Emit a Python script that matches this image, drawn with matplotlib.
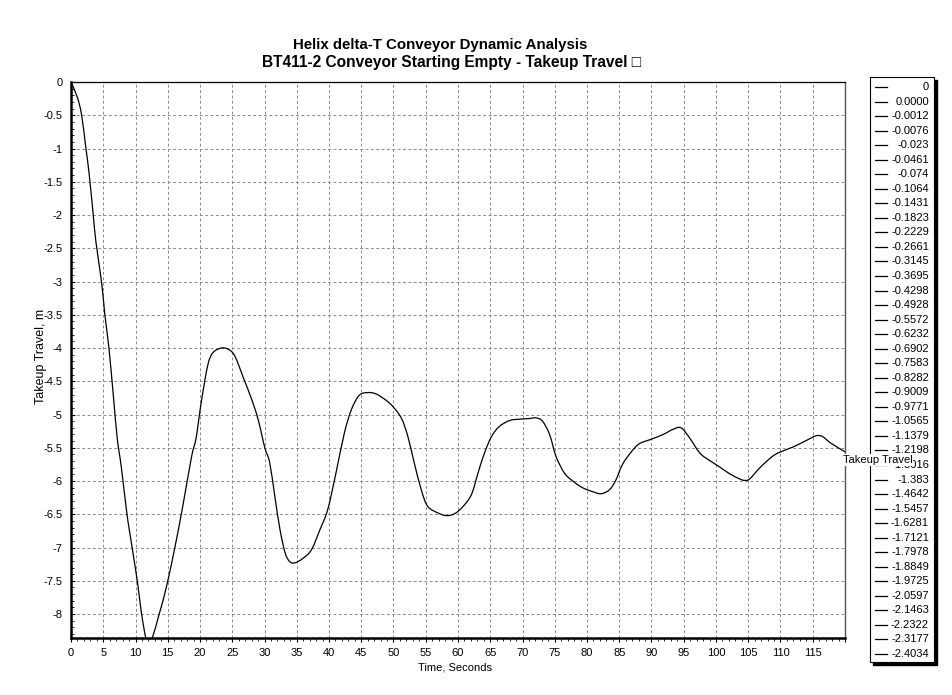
import matplotlib
matplotlib.use("Agg")
import matplotlib.pyplot as plt
from matplotlib.ticker import MultipleLocator, FuncFormatter
from matplotlib.patches import Rectangle, PathPatch
from matplotlib.path import Path
from matplotlib.lines import Line2D

plt.rcParams['font.family'] = ['Liberation Sans', 'DejaVu Sans']

# ---- data ----
time_s = [0, 0.98, 1.65, 2.3, 2.8, 3.45, 3.87, 4.74, 5.26, 5.88, 6.55, 7.16, 7.8,
          8.6, 9.1, 9.9, 10.4, 10.9, 11.6, 12.1, 12.6, 13.76, 14.8, 16.1, 17.4,
          18.7, 19.4, 20.2, 21.2, 22.0, 23.3, 24.4, 25.4, 26.7, 28.0, 29.0, 30.05,
          30.8, 31.6, 32.4, 33.2, 33.9, 34.7, 36.0, 37.3, 38.6, 39.8, 41.1, 42.4,
          43.5, 44.7, 46.0, 47.3, 48.9, 49.9, 51.2, 52.2, 53.2, 54.3, 55.3, 56.9,
          58.2, 59.5, 60.8, 62.1, 63.1, 64.1, 65.2, 66.4, 68.0, 69.5, 71.1, 72.1,
          73.1, 74.2, 75.2, 76.5, 77.8, 79.3, 80.9, 82.2, 83.5, 84.5, 85.5, 86.8,
          88.1, 90.0, 91.8, 93.4, 94.6, 95.9, 97.5, 99.0, 100.6, 102.1, 103.7,
          104.4, 105.2, 106.8, 108.6, 109.8, 111.9, 114.0, 115.5, 116.5, 117.8, 120.0]
travel_m = [0, -0.23, -0.5, -0.99, -1.37, -2.0, -2.41, -3.01, -3.51, -4.0, -4.7, -5.35,
            -5.79, -6.44, -6.77, -7.26, -7.59, -7.97, -8.36, -8.42, -8.36, -7.97, -7.59,
            -7.0, -6.34, -5.63, -5.35, -4.81, -4.26, -4.07, -4.0, -4.02, -4.12, -4.44,
            -4.77, -5.07, -5.5, -5.72, -6.23, -6.73, -7.08, -7.21, -7.23, -7.16, -7.03,
            -6.73, -6.43, -5.87, -5.27, -4.92, -4.71, -4.67, -4.69, -4.79, -4.88, -5.05,
            -5.32, -5.72, -6.13, -6.38, -6.48, -6.52, -6.49, -6.38, -6.2, -5.88, -5.58,
            -5.33, -5.18, -5.09, -5.07, -5.06, -5.05, -5.1, -5.3, -5.63, -5.88, -6.0,
            -6.1, -6.16, -6.19, -6.13, -5.98, -5.75, -5.57, -5.44, -5.37, -5.3, -5.22,
            -5.2, -5.35, -5.58, -5.69, -5.79, -5.89, -5.97, -5.99, -5.97, -5.8, -5.64,
            -5.57, -5.49, -5.39, -5.32, -5.33, -5.43, -5.56]

legend_labels = ["0", "0.0000", "-0.0012", "-0.0076", "-0.023", "-0.0461", "-0.074",
                 "-0.1064", "-0.1431", "-0.1823", "-0.2229", "-0.2661", "-0.3145",
                 "-0.3695", "-0.4298", "-0.4928", "-0.5572", "-0.6232", "-0.6902",
                 "-0.7583", "-0.8282", "-0.9009", "-0.9771", "-1.0565", "-1.1379",
                 "-1.2198", "-1.3016", "-1.383", "-1.4642", "-1.5457", "-1.6281",
                 "-1.7121", "-1.7978", "-1.8849", "-1.9725", "-2.0597", "-2.1463",
                 "-2.2322", "-2.3177", "-2.4034"]

title_line1 = "Helix delta-T Conveyor Dynamic Analysis"
title_line2 = "BT411-2 Conveyor Starting Empty - Takeup Travel \u25a1"
series_name = "Takeup Travel"

W, H = 953, 695
fig = plt.figure(figsize=(W / 100, H / 100), dpi=100)
fig.patch.set_facecolor('white')

def fx(px):
    return px / W

def fy(py):
    return 1 - py / H

ax = fig.add_axes([fx(71), fy(638), fx(845) - fx(71), fy(82) - fy(638)])

# smooth (Catmull-Rom style) line through the data points
verts = [(time_s[0], travel_m[0])]
codes = [Path.MOVETO]
n_pts = len(time_s)
for i in range(n_pts - 1):
    p0 = (time_s[max(i - 1, 0)], travel_m[max(i - 1, 0)])
    p1 = (time_s[i], travel_m[i])
    p2 = (time_s[i + 1], travel_m[i + 1])
    p3 = (time_s[min(i + 2, n_pts - 1)], travel_m[min(i + 2, n_pts - 1)])
    c1 = (p1[0] + (p2[0] - p0[0]) / 6, p1[1] + (p2[1] - p0[1]) / 6)
    c2 = (p2[0] - (p3[0] - p1[0]) / 6, p2[1] - (p3[1] - p1[1]) / 6)
    verts += [c1, c2, p2]
    codes += [Path.CURVE4] * 3
ax.add_patch(PathPatch(Path(verts, codes), facecolor='none', edgecolor='black',
                       lw=0.9, zorder=3))

ax.set_xlim(0, 120)
ax.set_ylim(-8.36, 0)

ax.xaxis.set_major_locator(MultipleLocator(5))
ax.xaxis.set_minor_locator(MultipleLocator(1))
ax.yaxis.set_major_locator(MultipleLocator(0.5))
ax.yaxis.set_minor_locator(MultipleLocator(0.1))
ax.xaxis.set_major_formatter(FuncFormatter(lambda v, p: "" if v > 117 else f"{v:g}"))
ax.yaxis.set_major_formatter(FuncFormatter(lambda v, p: f"{v:g}" if abs(v) > 1e-9 else "0"))

ax.tick_params(axis='x', which='major', direction='out', length=3, width=0.8, labelsize=8, pad=4)
ax.tick_params(axis='x', which='minor', direction='out', length=2, width=0.6)
ax.tick_params(axis='y', which='major', direction='in', length=3, width=0.8, labelsize=8, pad=6)
ax.tick_params(axis='y', which='minor', direction='in', length=2, width=0.6)

ax.grid(True, which='major', color='#8c8c8c', linestyle=(0, (3, 2.5)), linewidth=0.7)
ax.set_axisbelow(True)

ax.spines['left'].set_linewidth(1.8)
ax.spines['bottom'].set_linewidth(1.8)
ax.spines['top'].set_linewidth(0.9)
ax.spines['right'].set_linewidth(1.0)
ax.spines['right'].set_color('#555555')

fig.text(fx(440), fy(45), title_line1, ha='center', va='center', fontsize=10.8,
         fontweight='bold')
fig.text(fx(452), fy(63), title_line2, ha='center', va='center', fontsize=11.2,
         fontweight='bold')
fig.text(fx(455), fy(668), "Time, Seconds", ha='center', va='center', fontsize=8)
fig.text(fx(41), fy(356), "Takeup Travel, m", ha='center', va='center', fontsize=9,
         rotation=90)

# legend box with shadow
lx0, lx1, ly0, ly1 = 870, 934, 77, 662
fig.patches.append(Rectangle((fx(lx0 + 3), fy(ly1 + 3)), fx(lx1) - fx(lx0), fy(ly0) - fy(ly1),
                             transform=fig.transFigure, facecolor='black', edgecolor='black', zorder=1))
fig.patches.append(Rectangle((fx(lx0), fy(ly1)), fx(lx1) - fx(lx0), fy(ly0) - fy(ly1),
                             transform=fig.transFigure, facecolor='white', edgecolor='black',
                             linewidth=0.8, zorder=2))
n = len(legend_labels)
step = (654 - 87) / (n - 1)
for i, lab in enumerate(legend_labels):
    yy = 87 + i * step
    fig.lines.append(Line2D([fx(875), fx(887)], [fy(yy), fy(yy)], transform=fig.transFigure,
                            color='black', lw=0.9, zorder=3))
    fig.text(fx(929), fy(yy), lab, ha='right', va='center', fontsize=8, zorder=3)

fig.text(fx(843), fy(460), series_name, ha='left', va='center', fontsize=8, zorder=5,
         bbox=dict(facecolor='white', edgecolor='none', pad=0.5))

fig.savefig("out.png", dpi=100, facecolor='white')
